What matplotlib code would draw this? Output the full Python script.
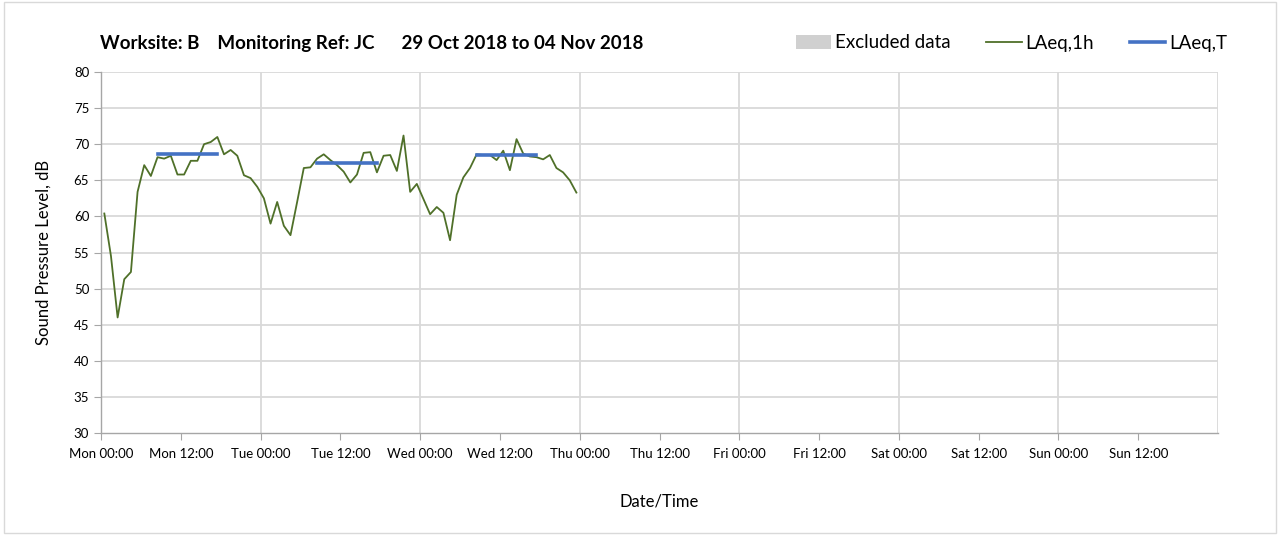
import numpy as np
import matplotlib
matplotlib.use('Agg')
import matplotlib.pyplot as plt
from matplotlib.patches import Patch, Rectangle
from matplotlib.lines import Line2D

plt.rcParams['font.family'] = ['Lato', 'DejaVu Sans']

# Hourly LAeq,1h values (dB), Mon 00:00 to Wed 23:00
laeq_1h = [
    60.4, 54.5, 46.0, 51.3, 52.3, 63.4, 67.1, 65.6, 68.2, 68.0, 68.4, 65.8,
    65.8, 67.7, 67.7, 70.0, 70.3, 71.0, 68.6, 69.2, 68.4, 65.7, 65.3, 64.1,
    62.5, 59.0, 62.0, 58.7, 57.4, 62.0, 66.7, 66.8, 68.0, 68.6, 67.8, 67.1,
    66.2, 64.7, 65.8, 68.8, 68.9, 66.1, 68.4, 68.5, 66.3, 71.2, 63.4, 64.5,
    62.4, 60.3, 61.3, 60.5, 56.7, 63.0, 65.4, 66.7, 68.6, 68.5, 68.5, 67.8,
    69.1, 66.4, 70.7, 68.7, 68.3, 68.2, 67.9, 68.5, 66.7, 66.1, 65.0, 63.3,
]
# LAeq,T periods: (first hour, last hour, level)
laeq_t_start = [8, 32, 56]
laeq_t_end = [17, 41, 65]
laeq_t_level = [68.6, 67.4, 68.5]

tick_labels = ['Mon 00:00', 'Mon 12:00', 'Tue 00:00', 'Tue 12:00', 'Wed 00:00',
               'Wed 12:00', 'Thu 00:00', 'Thu 12:00', 'Fri 00:00', 'Fri 12:00',
               'Sat 00:00', 'Sat 12:00', 'Sun 00:00', 'Sun 12:00']

green = '#4f7029'
blue = '#4472c4'
grid_col = '#d9d9d9'

fig = plt.figure(figsize=(12.8, 5.35), dpi=100)
ax = fig.add_axes([101 / 1280, 1 - 433 / 535, (1218 - 101) / 1280, (433 - 72) / 535])

hours = np.arange(len(laeq_1h)) + 0.5
ax.plot(hours, laeq_1h, color=green, lw=1.3, zorder=3)
for s, e, v in zip(laeq_t_start, laeq_t_end, laeq_t_level):
    ax.plot([s + 0.5, e + 0.5], [v, v], color=blue, lw=2.6, zorder=4,
            solid_capstyle='projecting')

ax.set_xlim(0, 168)
ax.set_ylim(30, 80)
ax.set_yticks(np.arange(30, 81, 5))
ax.set_xticks(np.arange(0, 168, 12))
ax.set_xticklabels(tick_labels, fontsize=9.5)
ax.tick_params(axis='y', labelsize=9.5, length=5, color='#a6a6a6')
ax.tick_params(axis='x', length=5, color='#a6a6a6', pad=6)

# gridlines: horizontal every 5 dB, vertical every day
for y in np.arange(35, 81, 5):
    ax.axhline(y, color=grid_col, lw=1.3, zorder=1)
for d in range(24, 169, 24):
    ax.axvline(d, color=grid_col, lw=1.3, zorder=1)

for side in ['top', 'right']:
    ax.spines[side].set_visible(False)
for side in ['left', 'bottom']:
    ax.spines[side].set_color('#a6a6a6')
    ax.spines[side].set_linewidth(1.0)

ax.set_ylabel('Sound Pressure Level, dB', fontsize=12, labelpad=16)
ax.set_xlabel('Date/Time', fontsize=12, labelpad=24)

fig.text(100 / 1280, 1 - 43 / 535,
         'Worksite: B    Monitoring Ref: JC      29 Oct 2018 to 04 Nov 2018',
         fontsize=13.5, fontweight='bold', va='center', ha='left')

handles = [Patch(facecolor='#d0d0d0', edgecolor='none', label='Excluded data'),
           Line2D([], [], color=green, lw=1.3, label='LAeq,1h'),
           Line2D([], [], color=blue, lw=2.6, label='LAeq,T')]
fig.legend(handles=handles, loc='center right', bbox_to_anchor=(1244 / 1280, 1 - 43 / 535),
           ncol=3, frameon=False, fontsize=13.5, handlelength=1.9, handletextpad=0.2,
           columnspacing=1.9)

# chart outer border
fig.add_artist(Rectangle((0.003, 0.004), 0.994, 0.992, transform=fig.transFigure,
                         fill=False, edgecolor='#d9d9d9', lw=1.0))

fig.savefig('out.png', dpi=100)
